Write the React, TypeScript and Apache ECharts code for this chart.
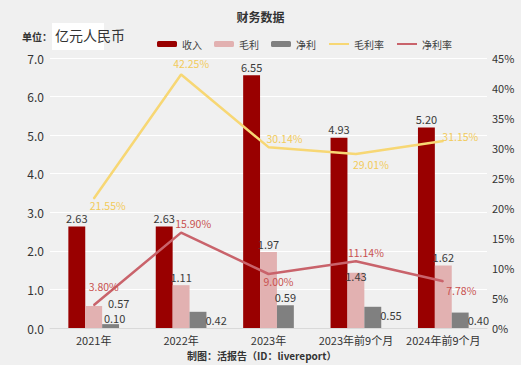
import React, { useEffect, useRef } from "react";
import * as echarts from "echarts";

const categories = ["2021年", "2022年", "2023年", "2023年前9个月", "2024年前9个月"];
const revenue = [2.63, 2.63, 6.55, 4.93, 5.2];
const grossProfit = [0.57, 1.11, 1.97, 1.43, 1.62];
const netProfit = [0.1, 0.42, 0.59, 0.55, 0.4];
const grossMargin = [21.55, 42.25, 30.14, 29.01, 31.15];
const netMargin = [3.8, 15.9, 9.0, 11.14, 7.78];
const leftTicks = { min: 0, max: 7, interval: 1 };
const rightTicks = { min: 0, max: 45, interval: 5 };

// label placement styles (not data)
const grossLabelPos: any[] = [
  { position: "top", offset: [25, 5] },
  { position: "top", offset: [0, 0] },
  { position: "top", offset: [0, 0] },
  { position: "top", offset: [0, 12] },
  { position: "top", offset: [0, 0] },
];
const netLabelPos: any[] = [
  { position: "top", offset: [4, 2] },
  { position: "right", offset: [-4, 0] },
  { position: "top", offset: [0, 0] },
  { position: "right", offset: [-4, -2] },
  { position: "right", offset: [-4, 0] },
];
const gmLabelPos: any[] = [
  { position: "bottom", offset: [14, -4] },
  { position: "top", offset: [10, 0] },
  { position: "top", offset: [16, 2] },
  { position: "bottom", offset: [15, 0] },
  { position: "top", offset: [17, 6] },
];
const nmLabelPos: any[] = [
  { position: "top", offset: [10, -8] },
  { position: "top", offset: [12, 2] },
  { position: "bottom", offset: [10, -3] },
  { position: "top", offset: [10, 2] },
  { position: "bottom", offset: [18, -2] },
];

const FONT = "'Noto Sans CJK SC', 'Noto Sans', sans-serif";

export default function App() {
  const ref = useRef<HTMLDivElement>(null);
  useEffect(() => {
    if (!ref.current) return;
    const chart = echarts.init(ref.current, undefined, { renderer: "svg" });
    const barLabel = {
      show: true,
      color: "#3a3a3a",
      fontSize: 11,
      fontFamily: FONT,
      distance: 3,
      formatter: (p: any) => Number(p.value).toFixed(2),
    };
    const pct = (p: any) => `${Number(p.value).toFixed(2)}%`;
    const option: any = {
      animation: false,
      backgroundColor: "#F0F0F0",
      textStyle: { fontFamily: FONT },
      title: {
        text: "财务数据",
        left: "center",
        top: 5,
        textStyle: { fontSize: 12, fontWeight: "bold", color: "#333", fontFamily: FONT },
      },
      legend: {
        left: 152,
        top: 34,
        itemWidth: 20,
        itemHeight: 6,
        itemGap: 12,
        textStyle: { fontSize: 10, color: "#404040", fontFamily: FONT },
        data: [
          { name: "收入" },
          { name: "毛利" },
          { name: "净利" },
          { name: "毛利率", itemStyle: { opacity: 0 } },
          { name: "净利率", itemStyle: { opacity: 0 } },
        ],
      },
      graphic: [
        {
          type: "text",
          left: 22,
          top: 31,
          style: { text: "单位：", fontSize: 10, fontWeight: "bold", fill: "#333", fontFamily: FONT },
        },
        {
          type: "rect",
          shape: { x: 52, y: 23, width: 52, height: 27 },
          style: { fill: "#FFFFFF" },
        },
        {
          type: "text",
          left: 55,
          top: 28,
          style: { text: "亿元人民币", fontSize: 14, fill: "#333", fontFamily: FONT },
        },
        {
          type: "text",
          left: 187,
          top: 350,
          style: { text: "制图：活报告（ID：livereport）", fontSize: 10, fontWeight: "bold", fill: "#333", fontFamily: FONT },
        },
      ],
      grid: { left: 50, right: 34, top: 58, bottom: 37, containLabel: false },
      xAxis: {
        type: "category",
        data: categories,
        axisTick: { show: false },
        axisLine: { lineStyle: { color: "#D9D9D9" } },
        axisLabel: { color: "#333", fontSize: 11, margin: 6, fontFamily: FONT, interval: 0 },
      },
      yAxis: [
        {
          type: "value",
          ...leftTicks,
          axisLabel: { color: "#333", fontSize: 12, margin: 6, formatter: (v: number) => v.toFixed(1), fontFamily: FONT },
          splitLine: { lineStyle: { color: "#FFFFFF", width: 1 } },
          axisLine: { show: false },
          axisTick: { show: false },
        },
        {
          type: "value",
          ...rightTicks,
          axisLabel: { color: "#333", fontSize: 11, margin: 5, formatter: (v: number) => `${v}%`, fontFamily: FONT },
          splitLine: { show: false },
          axisLine: { show: false },
          axisTick: { show: false },
        },
      ],
      series: [
        {
          name: "收入",
          type: "bar",
          barGap: "0%",
          barCategoryGap: "42%",
          itemStyle: { color: "#990000" },
          label: { ...barLabel, position: "top" },
          data: revenue,
        },
        {
          name: "毛利",
          type: "bar",
          itemStyle: { color: "#E2B1B1" },
          data: grossProfit.map((v, i) => ({ value: v, label: { ...barLabel, ...grossLabelPos[i] } })),
        },
        {
          name: "净利",
          type: "bar",
          itemStyle: { color: "#808080" },
          data: netProfit.map((v, i) => ({ value: v, label: { ...barLabel, ...netLabelPos[i] } })),
        },
        {
          name: "毛利率",
          type: "line",
          yAxisIndex: 1,
          symbol: "circle",
          symbolSize: 1,
          itemStyle: { color: "#F7D774" },
          lineStyle: { color: "#F7D774", width: 2.5 },
          z: 5,
          data: grossMargin.map((v, i) => ({
            value: v,
            label: { show: true, color: "#F2CB5A", fontSize: 10.5, fontFamily: FONT, formatter: pct, ...gmLabelPos[i] },
          })),
        },
        {
          name: "净利率",
          type: "line",
          yAxisIndex: 1,
          symbol: "circle",
          symbolSize: 1,
          itemStyle: { color: "#C9636B" },
          lineStyle: { color: "#C9636B", width: 2.5 },
          z: 5,
          data: netMargin.map((v, i) => ({
            value: v,
            label: { show: true, color: "#C8504F", fontSize: 10.5, fontFamily: FONT, formatter: pct, ...nmLabelPos[i] },
          })),
        },
      ],
    };
    chart.setOption(option);
    return () => chart.dispose();
  }, []);
  return <div ref={ref} style={{ position: "fixed", left: 0, top: 0, width: 521, height: 365 }} />;
}
